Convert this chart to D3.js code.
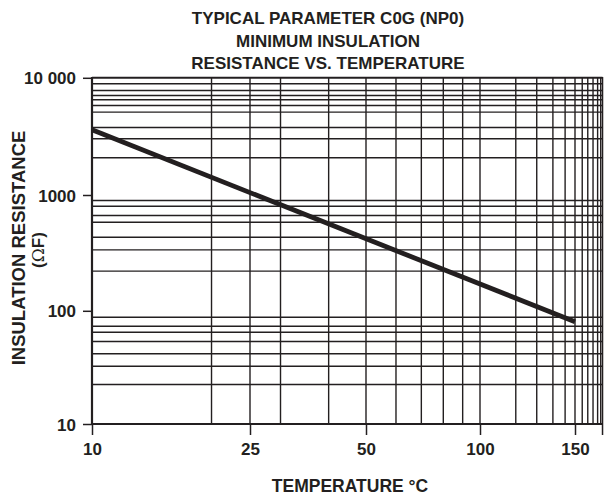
<!DOCTYPE html>
<html lang="en">
<head>
    <meta charset="UTF-8">
    <title>Insulation resistance vs temperature</title>
    <script src="https://d3js.org/d3.v7.min.js" charset="utf-8"></script>
    <style>
        body { margin: 0; background: #fff; }
        text { font-family: "Liberation Sans", Arial, sans-serif; font-weight: bold; fill: #231f20; }
    </style>
</head>
<body>
    <div id="vis"></div>
    <script>

        // data
        var tempTicks = [10, 25, 50, 100, 150];
        var resTicks = [10, 100, 1000, 10000];
        var resTickLabels = ["10", "100", "1000", "10 000"];

        // vertical grid of the chart paper (temperature, deg C)
        var tempGrid = [20, 25, 30, 40, 50, 60, 70, 80, 90, 100,
                        116.5, 127.4, 136.5, 143.8, 150, 154.7, 158.4, 162, 165.2, 167.4];
        // horizontal grid of the chart paper (ohm-farad)
        var resGrid = [22.3, 32.4, 41.7, 53.5, 64.7, 73.1, 87.8,
                       220, 336, 432, 582, 665, 800, 896,
                       2077, 3016, 3767, 5090, 5800, 6490, 7060, 7790, 8890];

        var tempSeries = [10, 150];
        var resSeries = [3600, 80];

        var tempMax = 168.7;

        var W = 607;
        var H = 497;

        var margin = {
          top: 77,
          left: 92,
          right: 4,
          bottom: 73
        };

        var width = W - margin.left - margin.right;
        var height = H - margin.top - margin.bottom;

        var svg = d3.select("#vis")
            .append("svg")
            .attr('width', W)
            .attr('height', H);

        var g = svg.append('g')
            .attr('transform', 'translate(' + margin.left + ',' + margin.top + ')');

        // the paper is not a clean log scale, so it is piecewise between labelled ticks
        var x_scale = d3.scaleLog()
            .domain(tempTicks)
            .range([0, 158, 274, 388, 483]);

        var y_scale = d3.scaleLog()
            .domain(resTicks)
            .range([height, height - 113.2, height - 229, height - 346.2]);

        var ink = "#231f20";

        // grid
        g.selectAll(".vgrid")
            .data(tempGrid)
            .enter()
            .append("line")
            .attr("class", "vgrid")
            .attr("x1", function(d){ return x_scale(d); })
            .attr("x2", function(d){ return x_scale(d); })
            .attr("y1", 0)
            .attr("y2", height)
            .attr("stroke", ink)
            .attr("stroke-width", 1.4);

        g.selectAll(".hgrid")
            .data(resGrid)
            .enter()
            .append("line")
            .attr("class", "hgrid")
            .attr("x1", 0)
            .attr("x2", x_scale(tempMax))
            .attr("y1", function(d){ return y_scale(d); })
            .attr("y2", function(d){ return y_scale(d); })
            .attr("stroke", ink)
            .attr("stroke-width", 1.4);

        // frame
        g.append("line")
            .attr("x1", 0).attr("x2", x_scale(tempMax))
            .attr("y1", y_scale(10000)).attr("y2", y_scale(10000))
            .attr("stroke", ink).attr("stroke-width", 2);
        g.append("line")
            .attr("x1", x_scale(tempMax)).attr("x2", x_scale(tempMax))
            .attr("y1", 0).attr("y2", height + 11)
            .attr("stroke", ink).attr("stroke-width", 1.5);

        // axes
        var x_axis = d3.axisBottom(x_scale)
            .tickValues(tempTicks)
            .tickSize(11)
            .tickPadding(6)
            .tickFormat(d3.format("d"));

        var y_axis = d3.axisLeft(y_scale)
            .tickValues(resTicks)
            .tickSize(9)
            .tickPadding(7)
            .tickFormat(function(d, i){ return resTickLabels[i]; });

        var xg = g.append('g')
            .attr('transform', 'translate(0,' + height + ')')
            .attr('class', 'x axis')
            .call(x_axis);

        var yg = g.append('g')
            .attr('class', 'y axis')
            .call(y_axis);

        [xg, yg].forEach(function(a){
            a.select(".domain").remove();
            a.selectAll(".tick line").attr("stroke", ink).attr("stroke-width", 1.5);
            a.selectAll(".tick text")
                .attr("fill", ink)
                .style("font-family", '"Liberation Sans", Arial, sans-serif')
                .style("font-weight", "bold")
                .style("font-size", "17px");
        });
        xg.selectAll(".tick text").attr("dy", "0.85em");
        yg.selectAll(".tick text").attr("dy", "0.36em");

        g.append("line")
            .attr("x1", 0).attr("x2", x_scale(tempMax))
            .attr("y1", height).attr("y2", height)
            .attr("stroke", ink).attr("stroke-width", 2.2);
        g.append("line")
            .attr("x1", 0).attr("x2", 0)
            .attr("y1", 0).attr("y2", height)
            .attr("stroke", ink).attr("stroke-width", 2.2);

        // data line
        var line = d3.line()
            .x(function(d){ return x_scale(d[0]); })
            .y(function(d){ return y_scale(d[1]); });

        g.append("path")
            .datum(d3.zip(tempSeries, resSeries))
            .attr("d", line)
            .attr("fill", "none")
            .attr("stroke", ink)
            .attr("stroke-width", 4.8);

        // titles
        var titleLines = ["TYPICAL PARAMETER C0G (NP0)", "MINIMUM INSULATION", "RESISTANCE VS. TEMPERATURE"];
        svg.selectAll(".title")
            .data(titleLines)
            .enter()
            .append("text")
            .attr("class", "title")
            .attr("x", 328)
            .attr("y", function(d, i){ return 24 + i * 22.5; })
            .attr("text-anchor", "middle")
            .style("font-size", "17px")
            .text(function(d){ return d; });

        svg.append("text")
            .attr("x", 350)
            .attr("y", 492)
            .attr("text-anchor", "middle")
            .style("font-size", "17.5px")
            .text("TEMPERATURE \u00B0C");

        svg.append("text")
            .attr("transform", "translate(25,248) rotate(-90)")
            .attr("text-anchor", "middle")
            .style("font-size", "18.5px")
            .text("INSULATION RESISTANCE");

        var unit = svg.append("text")
            .attr("transform", "translate(44,250) rotate(-90)")
            .attr("text-anchor", "middle")
            .style("font-size", "17px");
        unit.append("tspan").text("(");
        unit.append("tspan")
            .style("font-family", '"DejaVu Serif", serif')
            .style("font-weight", "normal")
            .text("\u03A9");
        unit.append("tspan").text("F)");

    </script>
</body>
</html>
